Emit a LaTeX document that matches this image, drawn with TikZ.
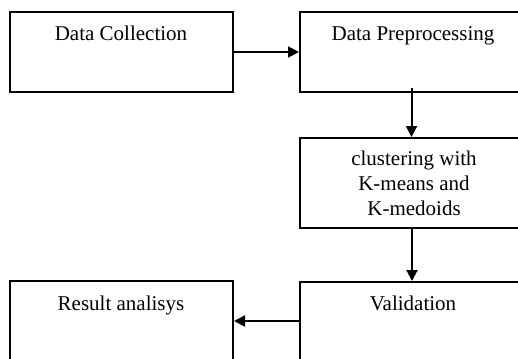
\documentclass[tikz,border=0pt]{standalone}
\usepackage{fontspec}
\setmainfont{Liberation Serif}
\usetikzlibrary{arrows.meta}

\begin{document}
\begin{tikzpicture}[x=0.5pt, y=-0.5pt,
  stage/.style={draw=black, line width=1pt, rectangle, inner sep=0pt},
  caption/.style={anchor=base, inner sep=0pt, align=center,
    font=\fontsize{10.5}{12.5}\selectfont},
  arr/.style={line width=1pt, -{Triangle[length=5.5pt, width=5.5pt]}}]
  % page frame and clip: the right and lower boxes run off the page
  \useasboundingbox (0,0) rectangle (518,358);
  \clip (0,0) rectangle (518,358);

  % stage boxes
  \node[stage, minimum width=111.5pt, minimum height=40pt] (col) at (121.5,52) {};
  \node[stage, minimum width=113pt, minimum height=40pt] (pre) at (413,52) {};
  \node[stage, minimum width=113pt, minimum height=45pt] (clu) at (413,183) {};
  \node[stage, minimum width=113pt, minimum height=59pt] (val) at (413,341) {};
  \node[stage, minimum width=111.5pt, minimum height=59.5pt] (res) at (121.5,340.5) {};

  % stage captions
  \node[caption] (tcol) at (121,41) {Data Collection};
  \node[caption] (tpre) at (413,41) {Data Preprocessing};
  \node[caption] (tclu1) at (414,165.7) {clustering with};
  \node[caption] (tclu2) at (414,190.7) {K-means and};
  \node[caption] (tclu3) at (414,215.7) {K-medoids};
  \node[caption] (tval) at (413,310) {Validation};
  \node[caption] (tres) at (121,310) {Result analisys};

  % connector positions
  \coordinate (d1) at (411.5,0);
  \coordinate (d2) at (412,0);
  \coordinate (h1) at (0,321);

  % flow arrows
  \draw[arr] (col.east) -- (pre.west);
  \draw[arr, shorten <=-2.5pt] (pre.south -| d1) -- (clu.north -| d1);
  \draw[arr] (clu.south -| d2) -- (val.north -| d2);
  \draw[arr] (val.west |- h1) -- (res.east |- h1);
\end{tikzpicture}
\end{document}
